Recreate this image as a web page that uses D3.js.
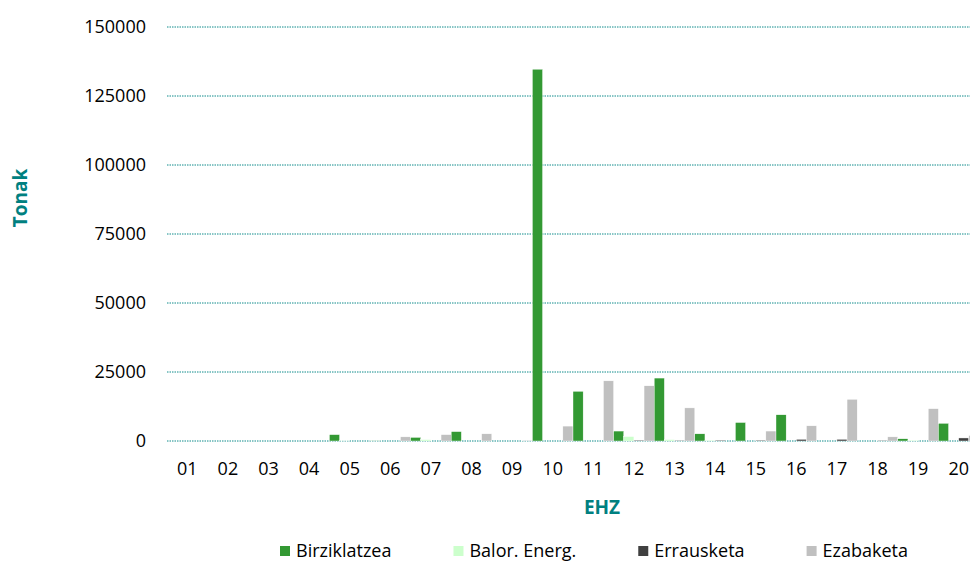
<!DOCTYPE html>
<html>
<head>
<meta charset="utf-8">
<script src="https://cdn.jsdelivr.net/npm/d3@7"></script>
<style>
  body { margin: 0; background: #fff; }
  text { font-family: "Open Sans", sans-serif; }
</style>
</head>
<body>
<div id="chart"></div>
<script>
// categories (EHZ codes)
var categories = ["01","02","03","04","05","06","07","08","09","10",
                  "11","12","13","14","15","16","17","18","19","20"];
var seriesNames = ["Birziklatzea", "Balor. Energ.", "Errausketa", "Ezabaketa"];
var seriesColors = ["#339933", "#ccffcc", "#404040", "#c0c0c0"];

// values in tonnes
var birziklatzea = [0, 0, 0, 0, 2300, 100, 1300, 3400, 0, 134700,
                    18000, 3600, 22800, 2600, 6700, 9500, 0, 0, 800, 6400];
var balorEnerg   = [0, 0, 0, 0, 100, 0, 500, 0, 0, 0,
                    0, 1600, 500, 300, 0, 0, 0, 0, 300, 0];
var errausketa   = [0, 0, 0, 0, 0, 0, 0, 0, 0, 0,
                    0, 300, 200, 300, 300, 600, 600, 200, 0, 1100];
var ezabaketa    = [0, 0, 0, 0, 0, 1500, 2300, 2600, 200, 5400,
                    21800, 20000, 12000, 0, 3600, 5500, 15100, 1500, 11700, 2000];
var yTicks = [0, 25000, 50000, 75000, 100000, 125000, 150000];

var series = [birziklatzea, balorEnerg, errausketa, ezabaketa];

var svgWidth = 970, svgHeight = 562;
var margin = { top: 27, left: 167 };
var width = 812, height = 414;

var svg = d3.select("#chart").append("svg")
  .attr("width", svgWidth)
  .attr("height", svgHeight);

var chartGroup = svg.append("g")
  .attr("transform", `translate(${margin.left}, ${margin.top})`);

// scales
var xScale = d3.scaleBand().domain(categories).range([0, width]).padding(0);
var xInner = d3.scaleBand().domain(d3.range(series.length)).range([0, xScale.bandwidth()]).padding(0);
var yScale = d3.scaleLinear().domain([0, 150000]).range([height, 0]);

// dotted gridlines
chartGroup.selectAll("line.grid")
  .data(yTicks)
  .enter()
  .append("line")
  .attr("class", "grid")
  .attr("x1", 0)
  .attr("x2", width)
  .attr("y1", d => yScale(d))
  .attr("y2", d => yScale(d))
  .attr("stroke", "#108c8c")
  .attr("stroke-width", 1)
  .attr("stroke-dasharray", "1.5,1");

// bars
var groups = chartGroup.selectAll("g.cat")
  .data(categories)
  .enter()
  .append("g")
  .attr("class", "cat")
  .attr("transform", d => `translate(${xScale(d)}, 0)`);

groups.selectAll("rect")
  .data((d, i) => series.map((s, k) => ({ k: k, v: s[i] })))
  .enter()
  .append("rect")
  .attr("x", d => xInner(d.k))
  .attr("width", xInner.bandwidth())
  .attr("y", d => yScale(d.v))
  .attr("height", d => height - yScale(d.v))
  .attr("fill", d => seriesColors[d.k])
  .attr("stroke", "#fff")
  .attr("stroke-width", 0.4);

// y axis
var yAxis = chartGroup.append("g")
  .call(d3.axisLeft(yScale).tickValues(yTicks).tickSize(0).tickPadding(21).tickFormat(d3.format("d")));
yAxis.select(".domain").remove();
yAxis.selectAll("text")
  .attr("font-size", "18px")
  .attr("font-family", "Open Sans, sans-serif")
  .attr("fill", "#000");

// x axis
var xAxis = chartGroup.append("g")
  .attr("transform", `translate(0, ${height})`)
  .call(d3.axisBottom(xScale).tickSize(0));
xAxis.select(".domain").remove();
xAxis.selectAll("text")
  .attr("y", 34)
  .attr("dy", 0)
  .attr("font-size", "18px")
  .attr("font-family", "Open Sans, sans-serif")
  .attr("fill", "#000");

// axis titles
svg.append("text")
  .attr("transform", "translate(27, 198) rotate(-90)")
  .attr("text-anchor", "middle")
  .attr("font-size", "19px")
  .attr("font-weight", "bold")
  .attr("fill", "#008080")
  .text("Tonak");

svg.append("text")
  .attr("x", 602)
  .attr("y", 514)
  .attr("text-anchor", "middle")
  .attr("font-size", "19px")
  .attr("font-weight", "bold")
  .attr("fill", "#008080")
  .text("EHZ");

// legend (kept just inside the bottom edge)
var legend = svg.append("g").attr("transform", "translate(280, 0)");
var lx = 0;
seriesNames.forEach(function(name, k) {
  var item = legend.append("g").attr("transform", `translate(${lx}, 0)`);
  item.append("rect")
    .attr("x", 0)
    .attr("y", 546)
    .attr("width", 10)
    .attr("height", 10)
    .attr("fill", seriesColors[k]);
  var t = item.append("text")
    .attr("x", 16)
    .attr("y", 557)
    .attr("font-size", "18px")
    .attr("fill", "#000")
    .text(name);
  lx += 16 + t.node().getComputedTextLength() + 62;
});
</script>
</body>
</html>
